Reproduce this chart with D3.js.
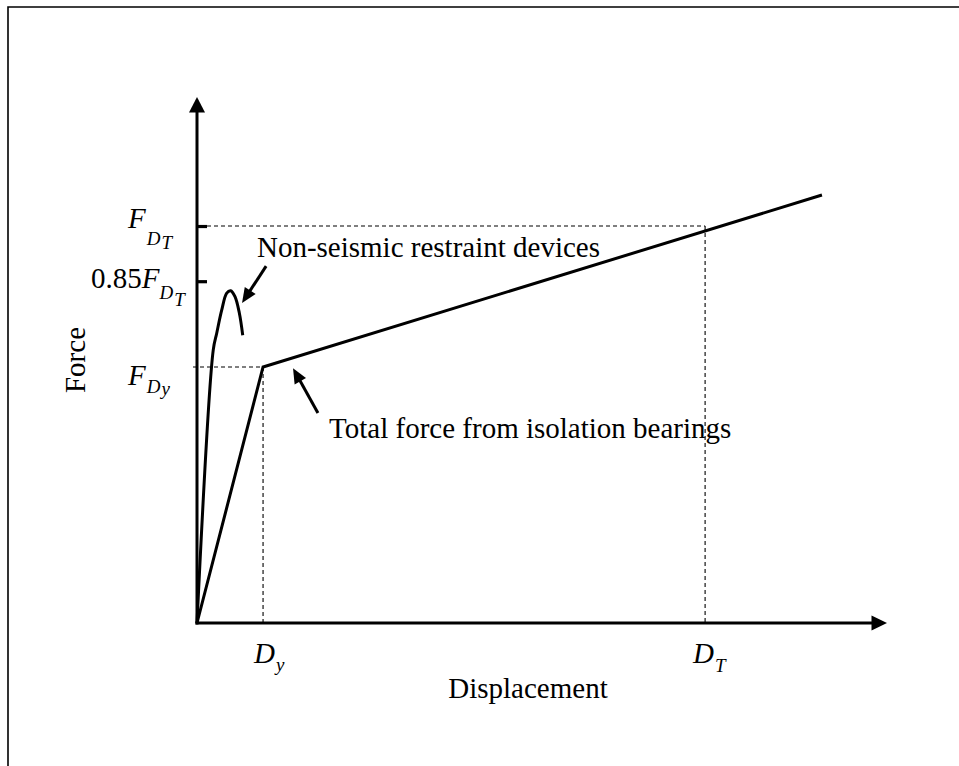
<!DOCTYPE html>
<html><head><meta charset="utf-8">
<script src="https://cdn.jsdelivr.net/npm/d3@7"></script>
<style>body{margin:0;background:#fff} svg{display:block}</style>
</head><body><svg id="c" width="959" height="766"></svg>
<script>
// ---------- data (arbitrary units: D_T = 1, F_DT = 1) ----------
const dispAxisMax = 1.358;
const forceAxisMax = 1.325;
const dispTickNames = ["D_y", "D_T"];
const dispTickValues = [0.13, 1.0];
const forceTickNames = ["F_Dy", "0.85F_DT", "F_DT"];
const forceTickValues = [0.645, 0.861, 1.0];
const bearingDisp = [0, 0.13, 1.23];
const bearingForce = [0, 0.645, 1.078];
const restraintDisp = [0, 0.032, 0.0388, 0.0486, 0.0585, 0.0663, 0.0748, 0.0833, 0.09];
const restraintForce = [0, 0.688, 0.730, 0.788, 0.831, 0.837, 0.822, 0.781, 0.725];
const annotationTexts = ["Non-seismic restraint devices", "Total force from isolation bearings"];
const annotationTextAt = [[0.118, 0.922], [0.26, 0.466]];
const annotationArrowTail = [[0.136, 0.899], [0.238, 0.529]];
const annotationArrowTip = [[0.0886, 0.806], [0.189, 0.642]];
const xTitle = "Displacement";
const yTitle = "Force";

// ---------- layout ----------
const svg = d3.select("#c");
const FONT = "'Liberation Serif','Times New Roman',serif";
const x = d3.scaleLinear().domain([0, dispAxisMax]).range([197, 887]);
const y = d3.scaleLinear().domain([0, forceAxisMax]).range([623, 97]);
const X0 = x(0), Y0 = y(0);

// frame
svg.append("path").attr("d", `M8,766V7H959`).attr("fill", "none")
  .attr("stroke", "#000").attr("stroke-width", 1.6);

// dashed guides
const guides = svg.append("g").attr("stroke", "#000").attr("stroke-width", 1.1)
  .attr("stroke-dasharray", "4,3").attr("fill", "none");
const iDy = 0, iDT = 1, iFy = 0, iFT = 2;
guides.append("line").attr("x1", X0 + 10).attr("x2", x(dispTickValues[iDT]))
  .attr("y1", y(forceTickValues[iFT])).attr("y2", y(forceTickValues[iFT]));
guides.append("line").attr("x1", x(dispTickValues[iDT])).attr("x2", x(dispTickValues[iDT]))
  .attr("y1", y(forceTickValues[iFT])).attr("y2", Y0);
guides.append("line").attr("x1", X0 - 4).attr("x2", x(dispTickValues[iDy]))
  .attr("y1", y(forceTickValues[iFy])).attr("y2", y(forceTickValues[iFy]));
guides.append("line").attr("x1", x(dispTickValues[iDy])).attr("x2", x(dispTickValues[iDy]))
  .attr("y1", y(forceTickValues[iFy])).attr("y2", Y0);

// axes
const axStroke = 3;
svg.append("line").attr("x1", X0).attr("x2", X0).attr("y1", Y0 + 1.5).attr("y2", y(forceAxisMax) + 14)
  .attr("stroke", "#000").attr("stroke-width", axStroke);
svg.append("line").attr("x1", X0 - 1.5).attr("x2", x(dispAxisMax) - 14).attr("y1", Y0).attr("y2", Y0)
  .attr("stroke", "#000").attr("stroke-width", axStroke);
svg.append("path").attr("fill", "#000")
  .attr("d", `M${X0},${y(forceAxisMax)}L${X0 + 8},${y(forceAxisMax) + 15.5}L${X0 - 8},${y(forceAxisMax) + 15.5}Z`);
svg.append("path").attr("fill", "#000")
  .attr("d", `M${x(dispAxisMax)},${Y0}L${x(dispAxisMax) - 15.5},${Y0 - 7.5}L${x(dispAxisMax) - 15.5},${Y0 + 7.5}Z`);

// y ticks (only F_DT and 0.85F_DT have tick marks)
const yAxis = d3.axisLeft(y).tickValues(forceTickValues.slice(1)).tickSize(-10).tickSizeOuter(0).tickFormat("");
const gy = svg.append("g").attr("transform", `translate(${X0},0)`).call(yAxis);
gy.select(".domain").remove();
gy.selectAll(".tick line").attr("stroke", "#000").attr("stroke-width", 3.2).attr("x1", 0);

// curves
const line = d3.line().x(d => x(d[0])).y(d => y(d[1]));
svg.append("path").datum(d3.zip(bearingDisp, bearingForce)).attr("d", line)
  .attr("fill", "none").attr("stroke", "#000").attr("stroke-width", 3).attr("stroke-linejoin", "miter");
svg.append("path").datum(d3.zip(restraintDisp, restraintForce))
  .attr("d", line.curve(d3.curveCatmullRom.alpha(0.5)))
  .attr("fill", "none").attr("stroke", "#000").attr("stroke-width", 3);

// annotation arrows
annotationArrowTail.forEach((t, i) => {
  const tip = annotationArrowTip[i];
  const x1 = x(t[0]), y1 = y(t[1]), x2 = x(tip[0]), y2 = y(tip[1]);
  const ang = Math.atan2(y2 - y1, x2 - x1);
  const L = 15, W = 6.5;
  const bx = x2 - L * Math.cos(ang), by = y2 - L * Math.sin(ang);
  svg.append("line").attr("x1", x1).attr("y1", y1).attr("x2", bx + 2 * Math.cos(ang)).attr("y2", by + 2 * Math.sin(ang))
    .attr("stroke", "#000").attr("stroke-width", 3);
  const px = -Math.sin(ang), py = Math.cos(ang);
  svg.append("path").attr("fill", "#000")
    .attr("d", `M${x2},${y2}L${bx + W * px},${by + W * py}L${bx - W * px},${by - W * py}Z`);
});

// annotation texts
annotationTexts.forEach((t, i) => {
  svg.append("text").attr("x", x(annotationTextAt[i][0])).attr("y", y(annotationTextAt[i][1]))
    .attr("font-family", FONT).attr("font-size", 29).attr("fill", "#000").text(t);
});

// tick labels with subscripts
function subLabel(px, py, parts) {
  const t = svg.append("text").attr("x", px).attr("y", py).attr("font-family", FONT).attr("fill", "#000");
  parts.forEach(p => {
    t.append("tspan").text(p.s).attr("font-size", p.size || 29)
      .attr("font-style", p.it ? "italic" : "normal")
      .attr("dy", p.dy || 0).attr("dx", p.dx || 0);
  });
}
// F_DT
subLabel(128, y(forceTickValues[2]) + 2, [{s: "F", it: true}, {s: "D", it: true, size: 19, dy: 17, dx: 1}, {s: "T", it: true, size: 19, dy: 4, dx: 1}]);
// 0.85F_DT
subLabel(91, y(forceTickValues[1]) + 7, [{s: "0.85"}, {s: "F", it: true}, {s: "D", it: true, size: 19, dy: 11, dx: 0}, {s: "T", it: true, size: 19, dy: 7, dx: 1}]);
// F_Dy
subLabel(128, y(forceTickValues[0]) + 18, [{s: "F", it: true}, {s: "D", it: true, size: 19, dy: 8, dx: 1}, {s: "y", it: true, size: 19, dy: 2, dx: 1}]);
// D_y
subLabel(x(dispTickValues[0]) - 9, Y0 + 40, [{s: "D", it: true}, {s: "y", it: true, size: 19, dy: 8, dx: 1}]);
// D_T
subLabel(x(dispTickValues[1]) - 12, Y0 + 40, [{s: "D", it: true}, {s: "T", it: true, size: 19, dy: 9, dx: 1}]);

// axis titles
svg.append("text").attr("x", 528).attr("y", 698).attr("text-anchor", "middle")
  .attr("font-family", FONT).attr("font-size", 29).text(xTitle);
svg.append("text").attr("transform", "translate(85,360) rotate(-90)").attr("text-anchor", "middle")
  .attr("font-family", FONT).attr("font-size", 29).text(yTitle);
</script></body></html>
